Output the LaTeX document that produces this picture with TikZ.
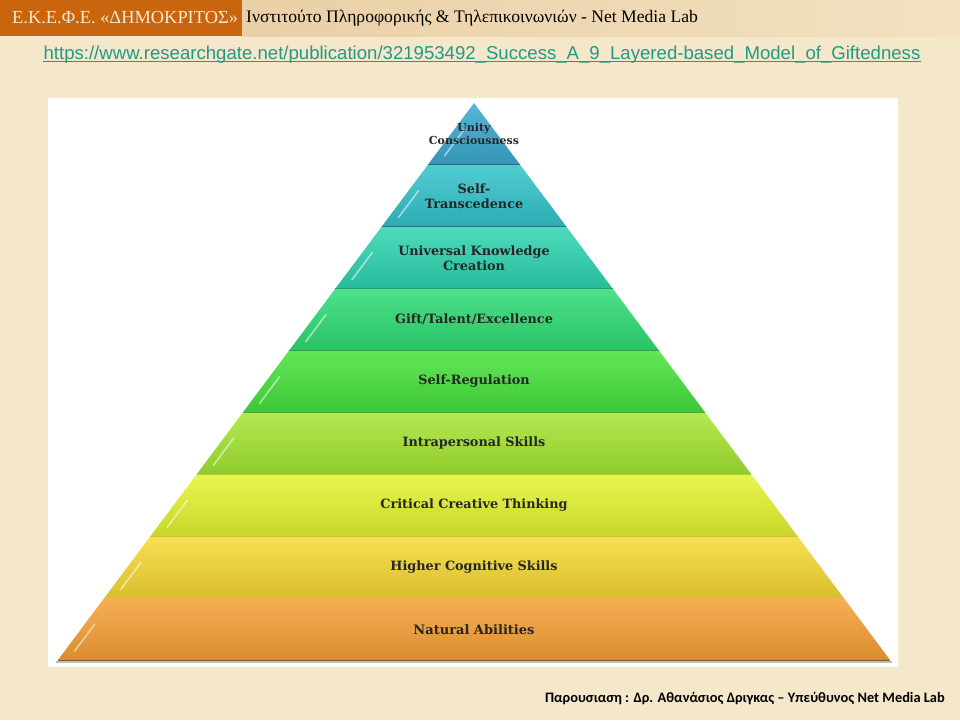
\documentclass[tikz,border=0pt]{standalone}
\usepackage{fontspec}
\setmainfont{Liberation Serif}
\newfontfamily\layerfont{DejaVu Serif}
\newfontfamily\footfont{Carlito}
\newfontfamily\urlfont{Liberation Sans}
\usetikzlibrary{positioning,calc}

\definecolor{paper}{HTML}{F5E7C9}
\definecolor{stripL}{HTML}{EACFA6}
\definecolor{stripR}{HTML}{F3E1C0}
\definecolor{orgorange}{HTML}{C9650F}
\definecolor{orgtext}{HTML}{F6E7CE}
\definecolor{urlteal}{HTML}{1F9B86}
\definecolor{cUnity}{HTML}{3BA9CF}
\definecolor{cTrans}{HTML}{33C3CB}
\definecolor{cKnow}{HTML}{2ED4B0}
\definecolor{cGift}{HTML}{2EDC74}
\definecolor{cReg}{HTML}{46E23C}
\definecolor{cIntra}{HTML}{A5E632}
\definecolor{cCrit}{HTML}{E4F430}
\definecolor{cCog}{HTML}{F6D934}
\definecolor{cNat}{HTML}{F6A035}

\begin{document}
\begin{tikzpicture}[
    x=1pt, y=-1pt,
    layertext/.style={align=center, text=black!85, inner sep=0pt},
    orglabel/.style={anchor=west, inner sep=0pt, text=orgtext, font=\fontsize{18.4}{20}\selectfont},
    headlabel/.style={anchor=west, inner sep=0pt, font=\fontsize{17.6}{20}\selectfont},
    urllabel/.style={anchor=base, inner sep=0pt, text=urlteal, font=\urlfont\fontsize{18.6}{20}\selectfont},
    footlabel/.style={anchor=east, inner sep=0pt, font=\footfont\bfseries\fontsize{14.4}{18}\selectfont}
]
    \useasboundingbox (0,0) rectangle (960,720);

    % Background and header strip
    \fill[paper] (0,0) rectangle (960,720);
    \shade[left color=stripL, right color=stripR] (242,0) rectangle (960,36);
    \fill[orgorange] (0,0) rectangle (242,36);
    \node[orglabel] (org) at (12,18) {Ε.Κ.Ε.Φ.Ε. «ΔΗΜΟΚΡΙΤΟΣ»};
    \node[headlabel] (inst) at (246,18) {Ινστιτούτο Πληροφορικής \& Τηλεπικοινωνιών - Net Media Lab};

    % Source link
    \node[urllabel] (url) at (482,59.5) {https://www.researchgate.net/publication/321953492\_Success\_A\_9\_Layered-based\_Model\_of\_Giftedness};
    \draw[urlteal, line width=1.3pt] ($(url.base west)+(0,2.2)$) -- ($(url.base east)+(0,2.2)$);

    % White panel
    \fill[white] (48,98) rectangle (898,667);
    \draw[black!25, line width=2pt] (56,662) -- (892,662);

    % Pyramid layers, top to bottom
    \foreach \i/\n/\col/\fs/\txt in {
        1/unity/cUnity/11/{Unity\\[-2pt]Consciousness},
        2/transc/cTrans/12.8/{Self-\\Transcedence},
        3/know/cKnow/12.8/{Universal Knowledge\\Creation},
        4/gift/cGift/12.8/{Gift/Talent/Excellence},
        5/reg/cReg/12.8/{Self-Regulation},
        6/intra/cIntra/12.8/{Intrapersonal Skills},
        7/crit/cCrit/12.8/{Critical Creative Thinking},
        8/cog/cCog/12.8/{Higher Cognitive Skills},
        9/nat/cNat/13/{Natural Abilities}} {
        \pgfmathsetmacro\yt{103+61.9*(\i-1)}
        \pgfmathsetmacro\yb{103+61.9*\i}
        \pgfmathsetmacro\wt{0.7469*(\yt-103)}
        \pgfmathsetmacro\wb{0.7469*(\yb-103)}
        \shade[top color=\col!85!white, middle color=\col, bottom color=\col!88!black]
            (474-\wt,\yt) -- (474+\wt,\yt) -- (474+\wb,\yb) -- (474-\wb,\yb) -- cycle;
        \draw[\col!55!black, line width=1.2pt] (474-\wb,\yb) -- (474+\wb,\yb);
        % highlight streak on the left edge
        \pgfmathsetmacro\ha{\yb-9}
        \pgfmathsetmacro\hb{\yb-36}
        \draw[white, opacity=.55, line width=1.5pt, line cap=round]
            ({474-0.7469*(\ha-103)+10},\ha) -- ({474-0.7469*(\hb-103)+10},\hb);
        \node[layertext, font=\layerfont\bfseries\fontsize{\fs}{15}\selectfont] (\n)
            at (474,{(\yt+\yb)/2}) {\txt};
    }

    % Footer
    \node[footlabel] (footer) at (945,698) {Παρουσιαση : Δρ. Αθανάσιος Δριγκας – Υπεύθυνος Net Media Lab};
\end{tikzpicture}
\end{document}
